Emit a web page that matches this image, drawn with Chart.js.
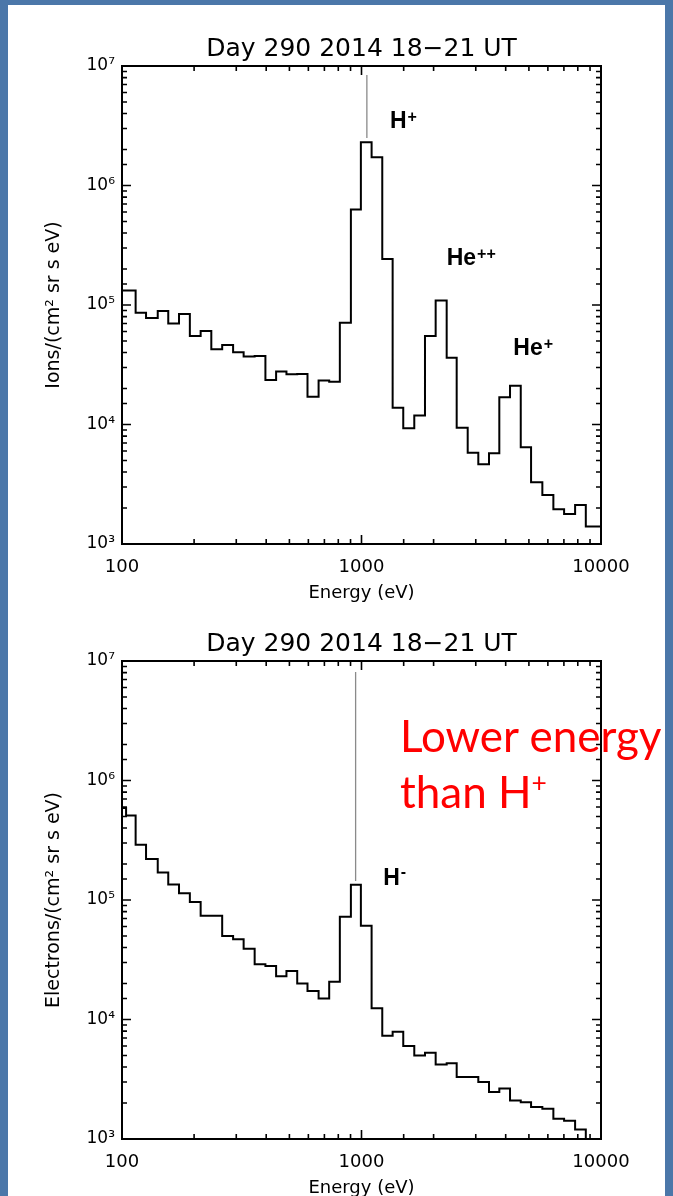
<!DOCTYPE html>
<html>
<head>
<meta charset="utf-8">
<script src="https://cdn.jsdelivr.net/npm/chart.js@4"></script>
<style>
  html, body { margin: 0; padding: 0; }
  body { width: 673px; height: 1196px; background: #4b77a9; overflow: hidden; position: relative; }
  #paper { position: absolute; left: 8px; top: 5px; width: 657px; height: 1191px; background: #fff; }
  canvas { position: absolute; left: 0; }
  #ionChart { top: 0; }
  #electronChart { top: 595px; }
  #note { position: absolute; left: 400px; top: 707px; font: 44px Lato, sans-serif; line-height: 56px; color: #f00; white-space: nowrap; }
  #note sup { font-size: 60%; line-height: 0; vertical-align: 0; position: relative; top: -0.6em; }
</style>
</head>
<body>
<div id="paper"></div>
<canvas id="ionChart" width="673" height="610"></canvas>
<canvas id="electronChart" width="673" height="610"></canvas>
<div id="note">Lower energy<br>than H<sup>+</sup></div>
<script>
// energy channels (lower bin edge, eV) and fluxes
const ionEnergy = [100, 114, 126, 141, 156, 173, 192, 213, 236, 262, 291, 322, 358, 397, 440, 486, 539, 595, 662, 733,
  812, 903, 994, 1102, 1221, 1349, 1494, 1661, 1841, 2040, 2268, 2497, 2776, 3074, 3407, 3762, 4170, 4623, 5105, 5690,
  6326, 7013, 7796, 8641];
const ionFlux = [1.32e5, 8.6e4, 7.8e4, 8.9e4, 7.0e4, 8.4e4, 5.5e4, 6.05e4, 4.26e4, 4.62e4, 4.02e4, 3.7e4, 3.74e4, 2.36e4,
  2.77e4, 2.63e4, 2.65e4, 1.71e4, 2.33e4, 2.28e4, 7.1e4, 6.3e5, 2.3e6, 1.72e6, 2.43e5, 1.38e4, 9.3e3, 1.19e4, 5.5e4,
  1.09e5, 3.62e4, 9.4e3, 5.8e3, 4.64e3, 5.74e3, 1.69e4, 2.11e4, 6.44e3, 3.28e3, 2.57e3, 1.95e3, 1.78e3, 2.12e3, 1.4e3];

const electronEnergy = [100, 104, 114, 126, 141, 156, 173, 192, 213, 236, 262, 291, 322, 358, 397, 440, 486, 539, 595, 662,
  733, 812, 903, 994, 1102, 1221, 1349, 1494, 1661, 1841, 2040, 2268, 2497, 2776, 3074, 3407, 3762, 4170, 4623, 5105,
  5690, 6326, 7013, 7796, 8641];
const electronFlux = [5.9e5, 5.1e5, 2.9e5, 2.2e5, 1.7e5, 1.35e5, 1.14e5, 9.6e4, 7.4e4, 7.4e4, 5.0e4, 4.7e4, 3.9e4, 2.9e4,
  2.8e4, 2.3e4, 2.55e4, 2.0e4, 1.73e4, 1.5e4, 2.07e4, 7.25e4, 1.34e5, 6.1e4, 1.24e4, 7.3e3, 7.9e3, 6.0e3, 5.0e3, 5.27e3,
  4.2e3, 4.3e3, 3.3e3, 3.3e3, 3.0e3, 2.47e3, 2.65e3, 2.1e3, 2.03e3, 1.85e3, 1.79e3, 1.48e3, 1.42e3, 1.2e3, 8.5e2];

// thin grey marker lines at the peaks
const ionMarkerEnergy = 1053;
const ionMarkerFlux = [8.4e6, 2.5e6];
const electronMarkerEnergy = 945;
const electronMarkerFlux = [8.1e6, 1.44e5];

// species labels (left edge / baseline in data units)
const ionLabels = [
  { text: 'H', sup: '+', energy: 1314, flux: 3.0e6 },
  { text: 'He', sup: '++', energy: 2268, flux: 2.16e5 },
  { text: 'He', sup: '+', energy: 4305, flux: 3.82e4 }
];
const electronLabels = [
  { text: 'H', sup: '-', energy: 1232, flux: 1.34e5 }
];

const plotTitle = 'Day 290 2014 18−21 UT';
const energyTicks = [100, 1000, 10000];
const fluxTicks = [1e3, 1e4, 1e5, 1e6, 1e7];
const supDigits = ['⁰', '¹', '²', '³', '⁴', '⁵', '⁶', '⁷', '⁸', '⁹'];

const isDecade = v => Math.abs(Math.log10(v) - Math.round(Math.log10(v))) < 1e-9;
const axisFont = { family: "'DejaVu Sans'", size: 18, weight: 'normal' };

// IDL style box with inward ticks on all four sides, title centred over the plot
const framePlugin = {
  id: 'frame',
  afterDatasetsDraw(chart) {
    const { ctx, chartArea: a, scales: { x, y } } = chart;
    ctx.save();
    ctx.strokeStyle = '#000';
    ctx.lineWidth = 1.6;
    ctx.beginPath();
    x.ticks.forEach(t => {
      const px = x.getPixelForValue(t.value);
      const len = isDecade(t.value) ? 9 : 5;
      ctx.moveTo(px, a.bottom); ctx.lineTo(px, a.bottom - len);
      ctx.moveTo(px, a.top); ctx.lineTo(px, a.top + len);
    });
    y.ticks.forEach(t => {
      const py = y.getPixelForValue(t.value);
      const len = isDecade(t.value) ? 9 : 5;
      ctx.moveTo(a.left, py); ctx.lineTo(a.left + len, py);
      ctx.moveTo(a.right, py); ctx.lineTo(a.right - len, py);
    });
    ctx.stroke();
    ctx.lineWidth = 2;
    ctx.strokeRect(a.left, a.top, a.right - a.left, a.bottom - a.top);

    ctx.fillStyle = '#000';
    ctx.font = "25px 'DejaVu Sans'";
    ctx.textAlign = 'center';
    ctx.textBaseline = 'alphabetic';
    ctx.fillText(plotTitle, (a.left + a.right) / 2, a.top - 10);
    ctx.restore();
  }
};

const labelPlugin = {
  id: 'peakLabels',
  afterDatasetsDraw(chart, args, opts) {
    const { ctx, scales: { x, y } } = chart;
    ctx.save();
    ctx.fillStyle = '#000';
    ctx.textBaseline = 'alphabetic';
    ctx.textAlign = 'left';
    opts.items.forEach(item => {
      const px = x.getPixelForValue(item.energy);
      const py = y.getPixelForValue(item.flux);
      ctx.font = 'bold 23px "Liberation Sans"';
      ctx.fillText(item.text, px, py);
      const w = ctx.measureText(item.text).width;
      ctx.font = 'bold 16px "Liberation Sans"';
      ctx.fillText(item.sup, px + w + 1, py - (item.sup === '-' ? 8 : 6));
    });
    ctx.restore();
  }
};

function makeChart(id, energy, flux, markerEnergy, markerFlux, labels, yTitle) {
  const steps = energy.map((e, i) => ({ x: e, y: flux[i] }));
  steps.push({ x: 10000, y: flux[flux.length - 1] });

  return new Chart(document.getElementById(id), {
    type: 'line',
    data: {
      datasets: [
        {
          data: steps,
          stepped: 'before',
          borderColor: '#000',
          borderWidth: 2,
          pointRadius: 0,
          fill: false
        },
        {
          data: markerFlux.map(f => ({ x: markerEnergy, y: f })),
          borderColor: '#8a8a8a',
          borderWidth: 1.3,
          pointRadius: 0,
          fill: false
        }
      ]
    },
    options: {
      responsive: false,
      animation: false,
      layout: { padding: { left: 0, right: 72, top: 66, bottom: 0 } },
      plugins: {
        legend: { display: false },
        tooltip: { enabled: false },
        title: { display: false },
        peakLabels: { items: labels }
      },
      scales: {
        x: {
          type: 'logarithmic',
          min: 100,
          max: 10000,
          grid: { display: false, drawTicks: false },
          border: { display: false },
          ticks: {
            autoSkip: false,
            maxRotation: 0,
            padding: 13,
            color: '#000',
            font: axisFont,
            callback: v => energyTicks.includes(v) ? String(v) : ''
          },
          title: {
            display: true,
            text: 'Energy (eV)',
            color: '#000',
            font: axisFont,
            padding: { top: 0, bottom: 6 }
          },
          afterFit: s => { s.height = 66; }
        },
        y: {
          type: 'logarithmic',
          min: 1e3,
          max: 1e7,
          grid: { display: false, drawTicks: false },
          border: { display: false },
          ticks: {
            autoSkip: false,
            padding: 7,
            color: '#000',
            font: { family: "'DejaVu Sans'", size: 17 },
            callback: v => fluxTicks.includes(v) ? '10' + supDigits[Math.round(Math.log10(v))] : ''
          },
          title: {
            display: true,
            text: yTitle,
            color: '#000',
            font: { family: "'DejaVu Sans'", size: 19, weight: 'normal' },
            padding: { top: 43, bottom: 0 }
          },
          afterFit: s => { s.width = 122; }
        }
      }
    },
    plugins: [framePlugin, labelPlugin]
  });
}

makeChart('ionChart', ionEnergy, ionFlux, ionMarkerEnergy, ionMarkerFlux, ionLabels, 'Ions/(cm² sr s eV)');
makeChart('electronChart', electronEnergy, electronFlux, electronMarkerEnergy, electronMarkerFlux, electronLabels,
  'Electrons/(cm² sr s eV)');
</script>
</body>
</html>
